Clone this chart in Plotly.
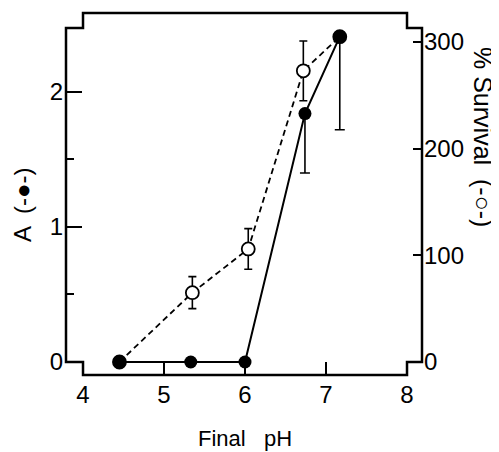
import plotly.graph_objects as go

# ---- data ----
ph_A = [4.45, 5.33, 6.0, 6.74, 7.17]
A_vals = [0.0, 0.0, 0.0, 1.84, 2.41]
A_err_minus = [0.0, 0.0, 0.0, 0.44, 0.69]
A_err_plus = [0.0, 0.0, 0.0, 0.0, 0.0]

ph_S = [4.45, 5.35, 6.04, 6.72, 7.17]
S_vals = [0.0, 65.0, 106.0, 273.0, 305.0]
S_err = [0.0, 15.0, 19.0, 28.0, 0.0]

x_ticks = [4, 5, 6, 7, 8]
A_ticks = [0, 1, 2]
A_minor = [0.5, 1.5]
S_ticks = [0, 100, 200, 300]

# ---- axis ranges ----
X0, X1 = 3.79, 8.185
YA0, YA1 = -0.0963, 2.585
YS0, YS1 = -12.19, 327.2
A_step = 2.474  # level of the corner steps at the top of the side axes

FONT = "Liberation Sans, Arial, Helvetica, sans-serif"

def px(x):
    return (x - X0) / (X1 - X0)

def py(y):
    return (y - YA0) / (YA1 - YA0)

fig = go.Figure()

fig.add_trace(go.Scatter(
    x=ph_S, y=S_vals, xaxis="x", yaxis="y",
    mode="lines+markers",
    line=dict(color="black", width=1.8, dash="6px,4px"),
    marker=dict(symbol="circle", size=13, color="white",
                line=dict(color="black", width=1.8)),
    error_y=dict(type="data", array=S_err, visible=True,
                 color="black", thickness=1.6, width=4),
    showlegend=False,
))

fig.add_trace(go.Scatter(
    x=ph_A, y=A_vals, xaxis="x", yaxis="y2",
    mode="lines+markers",
    line=dict(color="black", width=2),
    marker=dict(symbol="circle", size=13, color="black"),
    error_y=dict(type="data", array=A_err_plus, arrayminus=A_err_minus,
                 symmetric=False, visible=True,
                 color="black", thickness=1.6, width=5),
    showlegend=False,
))

# frame with stepped corners
xa, xb = px(4), px(8)
yst, ysb = py(A_step), py(0)
path = (f"M {xa},1 L {xb},1 L {xb},{yst} L 1,{yst} L 1,{ysb} L {xb},{ysb} "
        f"L {xb},0 L {xa},0 L {xa},{ysb} L 0,{ysb} L 0,{yst} L {xa},{yst} Z")
fig.add_shape(type="path", path=path, xref="paper", yref="paper",
              line=dict(color="black", width=2.5), fillcolor="rgba(0,0,0,0)")

# the page body adds an 8 px margin, so the figure is 8 px smaller
fig.update_layout(
    width=491, height=444,
    margin=dict(l=58, r=77, t=5, b=77),
    paper_bgcolor="white", plot_bgcolor="white",
    font=dict(family=FONT, color="black", size=22),
    xaxis=dict(range=[X0, X1], tickvals=x_ticks, ticktext=[str(v) for v in x_ticks],
               ticks="inside", ticklen=13, tickwidth=2, tickcolor="black",
               showline=False, showgrid=False, zeroline=False,
               tickfont=dict(size=24), ticklabelstandoff=3, anchor="y"),
    xaxis2=dict(range=[X0, X1], overlaying="x", side="top", anchor="y",
                tickvals=x_ticks, ticks="inside", ticklen=15, tickwidth=2,
                tickcolor="black", showticklabels=False,
                showline=False, showgrid=False, zeroline=False),
    yaxis=dict(range=[YS0, YS1], side="right", tickvals=S_ticks,
               ticks="inside", ticklen=9, tickwidth=2, tickcolor="black",
               showline=False, showgrid=False, zeroline=False,
               tickfont=dict(size=24), ticklabelstandoff=1, anchor="x"),
    yaxis2=dict(range=[YA0, YA1], side="left", overlaying="y", anchor="x",
                tickvals=A_ticks, ticks="inside", ticklen=16, tickwidth=2,
                tickcolor="black",
                minor=dict(tickvals=A_minor, ticks="inside", ticklen=8,
                           tickwidth=2, tickcolor="black"),
                showline=False, showgrid=False, zeroline=False,
                tickfont=dict(size=24), ticklabelstandoff=2),
)

# axis titles
fig.add_annotation(text="Final   pH", xref="paper", yref="paper",
                   x=(245 - 66) / 356, y=(375 - 438) / 362,
                   xanchor="center", yanchor="middle", showarrow=False,
                   font=dict(size=22))
fig.add_annotation(text="A  (-●-)",
                   xref="paper", yref="paper",
                   x=(22 - 66) / 356, y=(375 - 205) / 362,
                   xanchor="center", yanchor="middle", showarrow=False,
                   textangle=-90, font=dict(size=24))
fig.add_annotation(text="% Survival  (-○-)",
                   xref="paper", yref="paper",
                   x=(483 - 66) / 356, y=(375 - 137) / 362,
                   xanchor="center", yanchor="middle", showarrow=False,
                   textangle=90, font=dict(size=25))

fig.write_html("out.html")
